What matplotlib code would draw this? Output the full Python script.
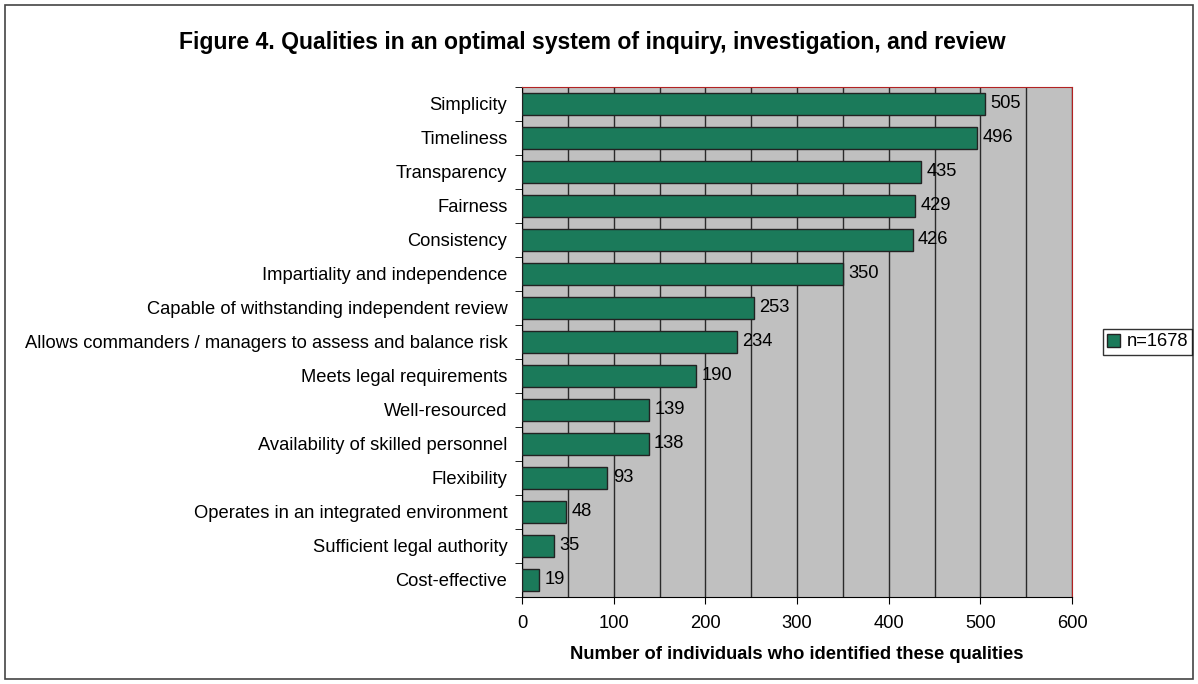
import numpy as np
import matplotlib.pyplot as plt
from matplotlib.patches import Rectangle, Patch

plt.rcParams['font.family'] = ['Liberation Sans', 'DejaVu Sans']

# data (top to bottom as in the figure)
qualities = ['Simplicity', 'Timeliness', 'Transparency', 'Fairness',
             'Consistency', 'Impartiality and independence',
             'Capable of withstanding independent review',
             'Allows commanders / managers to assess and balance risk',
             'Meets legal requirements', 'Well-resourced',
             'Availability of skilled personnel', 'Flexibility',
             'Operates in an integrated environment',
             'Sufficient legal authority', 'Cost-effective']
counts = [505, 496, 435, 429, 426, 350, 253, 234, 190, 139, 138, 93, 48, 35, 19]
legend_label = 'n=1678'

bar_color = '#1B7A5A'
fs = 13.2

fig = plt.figure(figsize=(11.98, 6.84), dpi=100)
# plot area: x 522..1072, y 87..597 px
ax = fig.add_axes([522 / 1198, 1 - 597 / 684, 550 / 1198, 510 / 684])
ax.set_facecolor('#C0C0C0')

y = np.arange(len(qualities))
ax.barh(y, counts, height=0.66, color=bar_color, edgecolor='#222222',
        linewidth=1.0, zorder=3)
for yi, v in zip(y, counts):
    ax.annotate(str(v), (v, yi), xytext=(4, 0), textcoords='offset points',
                va='center', ha='left', fontsize=fs, zorder=4)

ax.set_xlim(0, 600)
ax.set_ylim(len(qualities) - 0.5, -0.5)
ax.set_xticks(np.arange(0, 601, 100))
ax.set_xticks(np.arange(0, 601, 50), minor=True)
ax.xaxis.grid(True, which='both', color='#2a2a2a', linewidth=1.0, zorder=1)
ax.set_axisbelow(True)
ax.tick_params(axis='x', which='minor', length=0)
ax.tick_params(axis='x', which='major', length=5, labelsize=fs, pad=8)

ax.set_yticks(y)
ax.set_yticklabels(qualities, fontsize=fs)
ax.set_yticks(np.arange(-0.5, len(qualities), 1), minor=True)
ax.tick_params(axis='y', which='major', length=0, pad=10.5)
ax.tick_params(axis='y', which='minor', length=5)

ax.spines['top'].set_color('#B22222')
ax.spines['right'].set_color('#B22222')
ax.spines['left'].set_color('black')
ax.spines['bottom'].set_color('black')

ax.set_xlabel('Number of individuals who identified these qualities',
              fontsize=fs, fontweight='bold', labelpad=10)

fig.text(592 / 1198, 1 - 42 / 684, 'Figure 4. Qualities in an optimal system of inquiry, '
         'investigation, and review', ha='center', va='center',
         fontsize=16.6, fontweight='bold')

leg = fig.legend(handles=[Patch(facecolor=bar_color, edgecolor='#222222',
                                label=legend_label)],
                 loc='center', bbox_to_anchor=(1147.5 / 1198, 0.5), fontsize=fs,
                 frameon=True, fancybox=False, edgecolor='black',
                 handlelength=0.7, handleheight=0.7, handletextpad=0.35,
                 borderpad=0.25, borderaxespad=0)
leg.get_frame().set_linewidth(1.0)

fig.patches.append(Rectangle((0.004, 0.007), 0.992, 0.986, transform=fig.transFigure,
                             fill=False, edgecolor='#444444', linewidth=1.2))

fig.savefig('out.png', dpi=100)
